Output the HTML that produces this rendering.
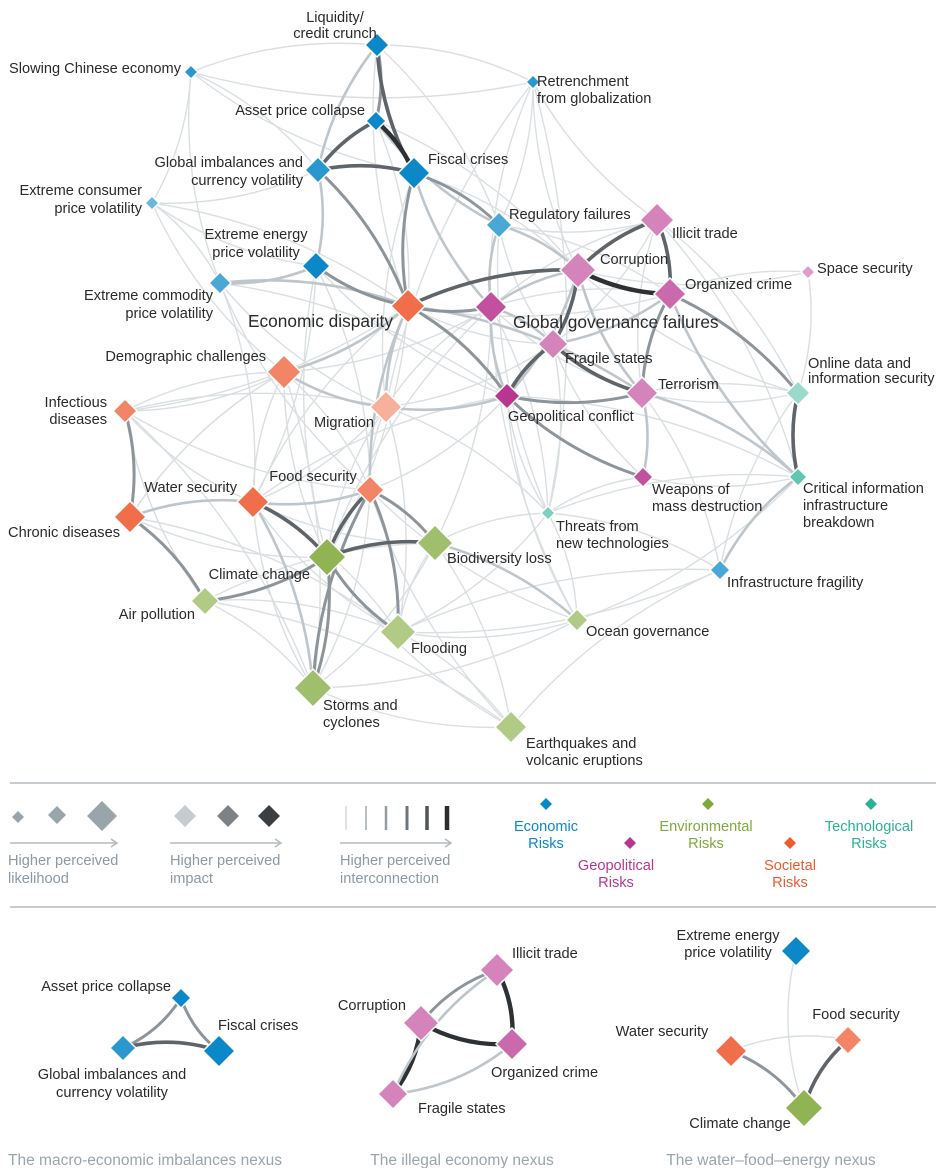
<!DOCTYPE html>
<html><head><meta charset="utf-8"><style>
body{margin:0;background:#fff;}
svg text{font-family:"Liberation Sans",sans-serif;font-size:14.6px;fill:#2a2a2a;}
.g{fill:#8c99a3;}
.cap{font-size:15.5px;fill:#9aa4ab;}
</style></head><body>
<svg id="chart" width="946" height="1168" viewBox="0 0 946 1168" xmlns="http://www.w3.org/2000/svg">
<g id="edges"></g>
<g id="nodes"></g>
<g id="labels">
<text x="335" y="22" text-anchor="middle">Liquidity/</text><text x="335" y="38" text-anchor="middle">credit crunch</text>
<text x="181" y="73" text-anchor="end">Slowing Chinese economy</text>
<text x="537" y="86">Retrenchment</text><text x="537" y="103">from globalization</text>
<text x="365" y="115" text-anchor="end">Asset price collapse</text>
<text x="303" y="167" text-anchor="end">Global imbalances and</text><text x="303" y="185" text-anchor="end">currency volatility</text>
<text x="428" y="164">Fiscal crises</text>
<text x="142" y="195" text-anchor="end">Extreme consumer</text><text x="142" y="213" text-anchor="end">price volatility</text>
<text x="509" y="219">Regulatory failures</text>
<text x="672" y="238">Illicit trade</text>
<text x="256" y="239" text-anchor="middle">Extreme energy</text><text x="256" y="257" text-anchor="middle">price volatility</text>
<text x="600" y="264">Corruption</text>
<text x="685" y="289">Organized crime</text>
<text x="817" y="273">Space security</text>
<text x="213" y="300" text-anchor="end">Extreme commodity</text><text x="213" y="318" text-anchor="end">price volatility</text>
<text x="393" y="327" text-anchor="end" style="font-size:17.3px">Economic disparity</text>
<text x="513" y="328" style="font-size:17.3px">Global governance failures</text>
<text x="266" y="361" text-anchor="end">Demographic challenges</text>
<text x="565" y="363">Fragile states</text>
<text x="808" y="368">Online data and</text><text x="808" y="383">information security</text>
<text x="107" y="407" text-anchor="end">Infectious</text><text x="107" y="424" text-anchor="end">diseases</text>
<text x="658" y="389">Terrorism</text>
<text x="374" y="427" text-anchor="end">Migration</text>
<text x="508" y="421">Geopolitical conflict</text>
<text x="313" y="481" text-anchor="middle">Food security</text>
<text x="237" y="492" text-anchor="end">Water security</text>
<text x="652" y="494">Weapons of</text><text x="652" y="511">mass destruction</text>
<text x="803" y="493">Critical information</text><text x="803" y="510">infrastructure</text><text x="803" y="527">breakdown</text>
<text x="556" y="531">Threats from</text><text x="556" y="548">new technologies</text>
<text x="120" y="537" text-anchor="end">Chronic diseases</text>
<text x="447" y="563">Biodiversity loss</text>
<text x="310" y="579" text-anchor="end">Climate change</text>
<text x="727" y="587">Infrastructure fragility</text>
<text x="195" y="619" text-anchor="end">Air pollution</text>
<text x="586" y="636">Ocean governance</text>
<text x="411" y="653">Flooding</text>
<text x="323" y="710">Storms and</text><text x="323" y="727">cyclones</text>
<text x="526" y="748">Earthquakes and</text><text x="526" y="765">volcanic eruptions</text>
</g>
<g id="legend">
<line x1="10" y1="783" x2="936" y2="783" stroke="#8c99a3" stroke-width="1"/>
<line x1="10" y1="907" x2="936" y2="907" stroke="#8c99a3" stroke-width="1"/>
<path d="M18 811l6 6-6 6-6-6z" fill="#9aa4ab"/><path d="M57 806l9 9-9 9-9-9z" fill="#9aa4ab"/><path d="M102 801l15 15-15 15-15-15z" fill="#9aa4ab"/>
<path d="M10 843H116" stroke="#b3bbc1" stroke-width="1.5"/><path d="M111 839l6 4-6 4" fill="none" stroke="#b3bbc1" stroke-width="1.5"/>
<text class="g" x="8" y="865">Higher perceived</text><text class="g" x="8" y="883">likelihood</text>
<path d="M185 805l11 11-11 11-11-11z" fill="#c6cbcf"/><path d="M228 805l11 11-11 11-11-11z" fill="#7d8286"/><path d="M269 805l11 11-11 11-11-11z" fill="#3c3f41"/>
<path d="M170 843H280" stroke="#b3bbc1" stroke-width="1.5"/><path d="M275 839l6 4-6 4" fill="none" stroke="#b3bbc1" stroke-width="1.5"/>
<text class="g" x="170" y="865">Higher perceived</text><text class="g" x="170" y="883">impact</text>
<g stroke-linecap="butt"><path d="M346 806v24" stroke="#d3d8db" stroke-width="1.5"/><path d="M366 806v24" stroke="#b9c0c5" stroke-width="2"/><path d="M386 806v24" stroke="#959ca1" stroke-width="2.5"/><path d="M407 806v24" stroke="#6f7579" stroke-width="3"/><path d="M427 806v24" stroke="#505457" stroke-width="3.5"/><path d="M447 806v24" stroke="#2b2d2e" stroke-width="4.5"/></g>
<path d="M340 843H450" stroke="#b3bbc1" stroke-width="1.5"/><path d="M445 839l6 4-6 4" fill="none" stroke="#b3bbc1" stroke-width="1.5"/>
<text class="g" x="340" y="865">Higher perceived</text><text class="g" x="340" y="883">interconnection</text>
<path d="M546 798l6 6-6 6-6-6z" fill="#0a88c8"/><text x="546" y="831" text-anchor="middle" style="fill:#0a88c8">Economic</text><text x="546" y="848" text-anchor="middle" style="fill:#0a88c8">Risks</text>
<path d="M630 837l6 6-6 6-6-6z" fill="#b83690"/><text x="616" y="870" text-anchor="middle" style="fill:#b83690">Geopolitical</text><text x="616" y="887" text-anchor="middle" style="fill:#b83690">Risks</text>
<path d="M708 798l6 6-6 6-6-6z" fill="#7fa93a"/><text x="706" y="831" text-anchor="middle" style="fill:#7fa93a">Environmental</text><text x="706" y="848" text-anchor="middle" style="fill:#7fa93a">Risks</text>
<path d="M790 837l6 6-6 6-6-6z" fill="#ee5a2f"/><text x="790" y="870" text-anchor="middle" style="fill:#ee5a2f">Societal</text><text x="790" y="887" text-anchor="middle" style="fill:#ee5a2f">Risks</text>
<path d="M871 798l6 6-6 6-6-6z" fill="#2bb197"/><text x="869" y="831" text-anchor="middle" style="fill:#2bb197">Technological</text><text x="869" y="848" text-anchor="middle" style="fill:#2bb197">Risks</text>
</g>
<g id="nexus"></g>
<g id="nexus-labels">
<text x="171" y="991" text-anchor="end">Asset price collapse</text><text x="218" y="1030">Fiscal crises</text>
<text x="112" y="1079" text-anchor="middle">Global imbalances and</text><text x="112" y="1097" text-anchor="middle">currency volatility</text>
<text class="cap" x="145" y="1165" text-anchor="middle">The macro-economic imbalances nexus</text>
<text x="512" y="958">Illicit trade</text><text x="406" y="1010" text-anchor="end">Corruption</text><text x="491" y="1077">Organized crime</text><text x="418" y="1113">Fragile states</text>
<text class="cap" x="462" y="1165" text-anchor="middle">The illegal economy nexus</text>
<text x="728" y="940" text-anchor="middle">Extreme energy</text><text x="728" y="957" text-anchor="middle">price volatility</text>
<text x="856" y="1019" text-anchor="middle">Food security</text><text x="662" y="1036" text-anchor="middle">Water security</text><text x="740" y="1128" text-anchor="middle">Climate change</text>
<text class="cap" x="771" y="1165" text-anchor="middle">The water–food–energy nexus</text>
</g>
</svg>
<script>
// node data
const nodeIds = ["liq","china","retr","asset","fiscal","imbal","consumer","reg","energy","commod","infra",
"illicit","corr","orgc","ggf","fragile","terror","geocon","wmd","space",
"disp","demo","infect","migr","food","water","chronic",
"climate","biodiv","air","flood","storm","ocean","quake",
"online","cii","tech"];
const nodeCategory = ["eco","eco","eco","eco","eco","eco","eco","eco","eco","eco","eco",
"geo","geo","geo","geo","geo","geo","geo","geo","geo",
"soc","soc","soc","soc","soc","soc","soc",
"env","env","env","env","env","env","env",
"tec","tec","tec"];
const nodeLikelihood = [12,7,7,10,16,13,7,13,14,11,10, 17,18,16,16,15,16,13,10,7, 17,17,12,16,14,16,16, 19,18,14,18,19,11,16, 12,9,7];
const nodeImpact = [5,4,4,5,5,4,2,3,5,3,3, 2,2,3,4,2,2,5,4,1, 4,3,3,1,3,4,4, 4,3,2,2,3,2,2, 1,3,2];
const nodeLayout = [[377,45],[191,72],[533,82],[376,121],[414,173],[318,170],[152,203],[499,225],[316,266],[220,283],[720,570],
[657,220],[578,270],[670,294],[491,307],[553,344],[642,393],[507,396],[643,477],[808,272],
[408,306],[284,372],[125,411],[386,407],[370,490],[253,502],[130,517],
[327,557],[435,543],[205,601],[398,632],[313,688],[577,620],[511,727],
[798,393],[798,477],[548,513]];
// edges: [from, to, interconnection 1-5]
const edgeList = [
["asset","fiscal",5],["liq","fiscal",4],["liq","asset",3],["asset","imbal",4],["imbal","fiscal",4],["liq","imbal",2],
["fiscal","reg",3],["fiscal","disp",3],["imbal","disp",3],["energy","disp",3],["energy","commod",2],["asset","reg",2],
["disp","corr",4],["corr","orgc",5],["illicit","orgc",4],["illicit","corr",4],["corr","fragile",4],["fragile","terror",4],
["geocon","fragile",4],["geocon","terror",3],["ggf","corr",2],["disp","ggf",3],["disp","geocon",3],["online","cii",4],
["terror","wmd",2],["geocon","wmd",3],["orgc","online",3],["orgc","terror",3],["terror","cii",2],["cii","infra",2],
["climate","biodiv",4],["climate","water",4],["climate","food",4],["climate","flood",3],["climate","storm",3],["air","climate",3],
["chronic","air",3],["chronic","infect",3],["chronic","water",2],["flood","food",3],["storm","food",3],["biodiv","food",3],
["migr","demo",2],["demo","disp",2],["migr","disp",2],["migr","geocon",2],["food","water",2],["reg","ggf",2],
["imbal","energy",2],["liq","china",1],["china","consumer",1],["china","retr",1],["liq","retr",1],["retr","ggf",1],
["consumer","commod",1],["consumer","energy",1],["commod","disp",2],["commod","food",1],["energy","food",1],["china","commod",1],
["retr","reg",1],["retr","corr",1],["reg","corr",2],["reg","illicit",1],["ggf","fragile",2],["ggf","geocon",2],["ggf","orgc",1],
["space","orgc",1],["space","corr",1],["online","terror",1],["online","corr",1],["cii","tech",1],["tech","geocon",1],["tech","fragile",1],
["tech","ocean",1],["ocean","biodiv",2],["ocean","ggf",1],["infra","quake",1],["infra","flood",1],["infra","tech",1],["quake","storm",1],
["quake","flood",1],["quake","climate",1],["storm","air",1],["storm","water",1],["flood","water",1],["biodiv","water",1],["biodiv","air",1],
["infect","demo",1],["infect","water",1],["infect","migr",1],["demo","water",1],["demo","food",1],["migr","food",1],["food","disp",2],
["food","geocon",1],["water","geocon",1],["biodiv","ggf",1],["climate","ggf",1],["climate","disp",1],["disp","terror",2],["disp","orgc",1],
["fiscal","corr",1],["fiscal","ggf",2],["asset","disp",1],["energy","geocon",1],["commod","water",1],["consumer","demo",1],["chronic","demo",1],
["wmd","cii",1],["fragile","migr",1],["terror","online",1],["illicit","fragile",1],["illicit","ggf",1],["wmd","fragile",1],["reg","tech",1],
["space","online",1],["cii","geocon",1],["air","flood",1],["quake","biodiv",1],["ocean","flood",1],["infect","air",1],["migr","tech",1],
["china","fiscal",1],["china","imbal",1],["consumer","imbal",1],["consumer","disp",1],["commod","migr",1],["commod","geocon",1],
["liq","disp",1],["liq","reg",1],["retr","illicit",1],["retr","tech",1],["retr","migr",1],["asset","corr",1],["fiscal","migr",1],
["reg","orgc",1],["reg","fragile",1],["illicit","online",1],["illicit","terror",1],["illicit","cii",1],["corr","terror",2],["corr","geocon",2],
["orgc","cii",2],["orgc","fragile",2],["ggf","terror",1],["ggf","tech",1],["ggf","migr",1],["ggf","demo",1],["geocon","ocean",1],
["terror","infra",1],["online","infra",1],["cii","ocean",1],["tech","biodiv",1],["tech","flood",1],["wmd","tech",1],
["demo","infect",1],["demo","chronic",1],["demo","storm",1],["demo","climate",1],["migr","water",1],["migr","climate",1],["migr","flood",1],
["infect","food",1],["infect","storm",1],["chronic","climate",1],["chronic","flood",1],["water","flood",1],["water","storm",2],
["food","ocean",1],["food","storm",1],["food","quake",1],["biodiv","storm",1],["biodiv","flood",1],["air","quake",1],["storm","ocean",1],
["flood","infra",1],["disp","water",1],["disp","infect",1],["disp","fragile",1],["energy","water",1],["energy","climate",1]
];
// nexus panels
const nexusNodes = [
["asset",181,998,10],["imbal",123,1048,13],["fiscal",219,1051,16],
["illicit",497,970,17],["corr",421,1023,18],["orgc",512,1044,16],["fragile",393,1094,15],
["energy",796,951,15],["water",731,1051,16],["food",848,1040,14],["climate",804,1108,19]];
const nexusEdges = [[0,1,3],[0,2,3],[1,2,4],[3,4,3],[3,5,5],[4,5,5],[4,6,5],[3,6,2],[5,6,2],[7,10,1],[8,10,3],[9,10,4],[8,9,1]];

const base = {eco:[10,136,200],geo:[184,54,144],soc:[238,90,47],env:[127,169,58],tec:[43,177,151]};
function nodeColor(cat, imp){
  const b = base[cat]; const m = (5-imp)*0.13;
  return 'rgb('+b.map(v=>Math.round(v+(255-v)*m)).join(',')+')';
}
const edgeStroke = [null,["#dadfe2",1.4],["#bfc6cb",2.6],["#8d959a",3],["#5e6468",3.6],["#2e3133",4.4]];
const NS='http://www.w3.org/2000/svg';
const idx = {}; nodeIds.forEach((id,i)=>idx[id]=i);
function curve(x1,y1,x2,y2,k){
  const mx=(x1+x2)/2, my=(y1+y2)/2, dx=x2-x1, dy=y2-y1;
  return 'M'+x1+' '+y1+' Q'+(mx-dy*k)+' '+(my+dx*k)+' '+x2+' '+y2;
}
const eg = document.getElementById('edges');
const sorted = edgeList.map((e,i)=>[e,i]).sort((a,b)=>a[0][2]-b[0][2]);
sorted.forEach(([e,i])=>{
  const a=nodeLayout[idx[e[0]]], b=nodeLayout[idx[e[1]]];
  const p=document.createElementNS(NS,'path');
  p.setAttribute('d',curve(a[0],a[1],b[0],b[1],(i%2?0.12:-0.12)));
  p.setAttribute('fill','none');
  p.setAttribute('stroke',edgeStroke[e[2]][0]);
  p.setAttribute('stroke-width',edgeStroke[e[2]][1]);
  
  
  eg.appendChild(p);
});
function diamond(g,x,y,s,fill,name){
  const p=document.createElementNS(NS,'path');
  p.setAttribute('d','M'+x+' '+(y-s)+'L'+(x+s)+' '+y+'L'+x+' '+(y+s)+'L'+(x-s)+' '+y+'Z');
  p.setAttribute('fill',fill); p.setAttribute('stroke','#fff'); p.setAttribute('stroke-width','1.5');
  
  
  g.appendChild(p);
}
const ng=document.getElementById('nodes');
nodeIds.forEach((id,i)=>{
  diamond(ng,nodeLayout[i][0],nodeLayout[i][1],nodeLikelihood[i],nodeColor(nodeCategory[i],nodeImpact[i]),'node-'+id);
});
const xg=document.getElementById('nexus');
nexusEdges.forEach((e,i)=>{
  const a=nexusNodes[e[0]], b=nexusNodes[e[1]];
  const p=document.createElementNS(NS,'path');
  p.setAttribute('d',curve(a[1],a[2],b[1],b[2],(i%2?0.15:-0.15)));
  p.setAttribute('fill','none');
  p.setAttribute('stroke',edgeStroke[e[2]][0]);
  p.setAttribute('stroke-width',edgeStroke[e[2]][1]);
  
  
  xg.appendChild(p);
});
nexusNodes.forEach(n=>{
  const i=idx[n[0]];
  diamond(xg,n[1],n[2],n[3],nodeColor(nodeCategory[i],nodeImpact[i]),'nexus-node-'+n[0]);
});
</script>
</body></html>
